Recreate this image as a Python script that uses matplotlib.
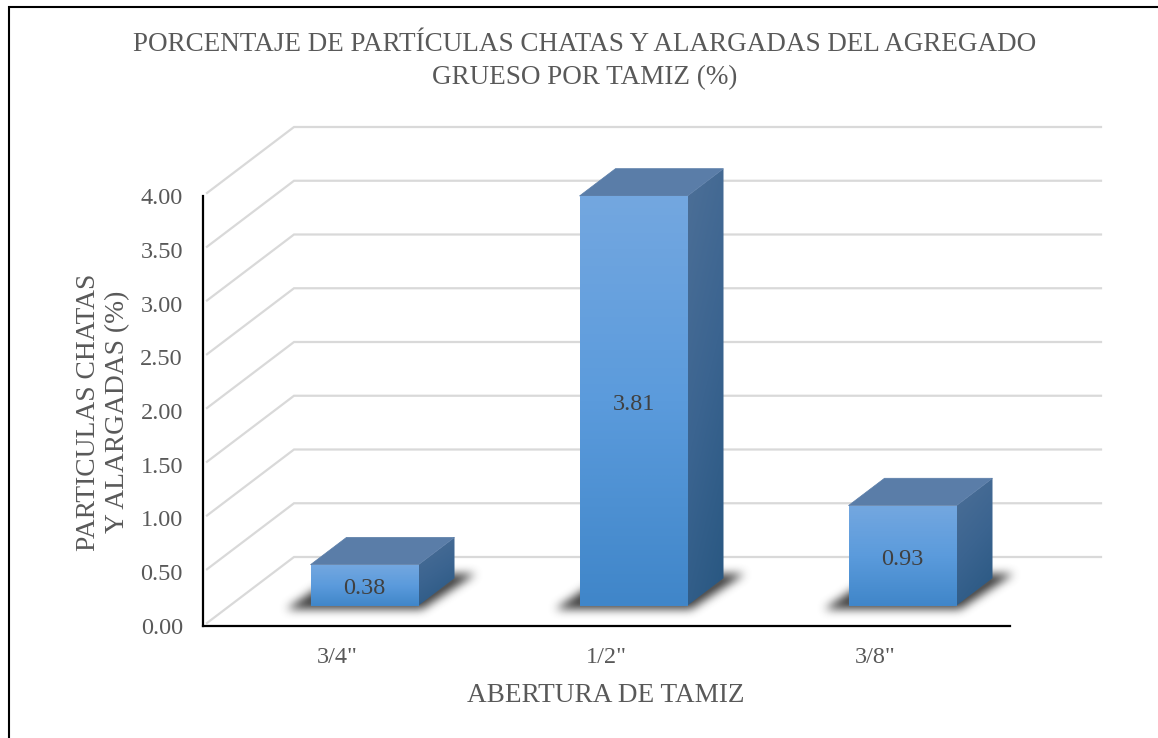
import numpy as np
import matplotlib
matplotlib.use("Agg")
import matplotlib.pyplot as plt
from matplotlib.lines import Line2D
from matplotlib.patches import Polygon
from matplotlib.colors import LinearSegmentedColormap

categories = ['3/4"', '1/2"', '3/8"']
values = [0.38, 3.81, 0.93]
y_ticks = [0.0, 0.5, 1.0, 1.5, 2.0, 2.5, 3.0, 3.5, 4.0]
title = "PORCENTAJE DE PARTÍCULAS CHATAS Y ALARGADAS DEL AGREGADO\nGRUESO POR TAMIZ (%)"
x_title = "ABERTURA DE TAMIZ"
y_title = "PARTICULAS CHATAS\nY ALARGADAS (%)"

W, H = 1158, 738
plt.rcParams['font.family'] = ['Liberation Serif', 'DejaVu Serif']
TEXT = '#595959'
fig = plt.figure(figsize=(W / 100, H / 100), dpi=100, facecolor='white')
L, R, T, B = 203, 1010, 196, 626
ax = fig.add_axes([L / W, 1 - B / H, (R - L) / W, (B - T) / H])
ax.set_xlim(-0.5, 2.5)
ax.set_ylim(0, 4)
ax.patch.set_alpha(0)
UX, UY = 3 / (R - L), 4 / (B - T)        # data units per pixel
DX, DY = 91 * UX, 69 * UY                # full depth of the 3-D box

# walls
for v in y_ticks:
    ax.plot([-0.5 + 4 * UX, -0.5 + DX, 2.5 + DX], [v + 3 * UY, v + DY, v + DY],
            color='#d9d9d9', lw=1.6, clip_on=False, zorder=1, solid_joinstyle='miter')

front_cmap = LinearSegmentedColormap.from_list('f', ['#73a7e0', '#5b9bdc', '#4086c9'])
side_cmap = LinearSegmentedColormap.from_list('s', ['#4c6f97', '#3b6490', '#285781'])
BW = 108 * UX
NEAR = 27 / 91
FAR = 63 / 91


def gradient(poly, cmap, extent, data, z):
    im = ax.imshow(data, cmap=cmap, extent=extent, aspect='auto', vmin=0, vmax=1,
                   zorder=z, interpolation='bilinear', origin='upper')
    clip = Polygon(poly, closed=True, transform=ax.transData, fc='none', ec='none')
    ax.add_patch(clip)
    im.set_clip_box(fig.bbox)
    im.set_clip_path(clip)


def blur(a, n):
    k = np.ones(n) / n
    for _ in range(3):
        a = np.apply_along_axis(lambda r: np.convolve(r, k, mode='same'), 0, a)
        a = np.apply_along_axis(lambda r: np.convolve(r, k, mode='same'), 1, a)
    return a


for i, v in enumerate(values):
    x0 = i - BW / 2 + NEAR * DX
    x1 = x0 + BW
    y0 = NEAR * DY
    y1 = y0 + v
    ddx = (FAR - NEAR) * DX
    ddy = (FAR - NEAR) * DY

    # blurred floor shadow
    px = np.arange(-50, 200)
    py = np.arange(-50, 20)
    gx, gy = np.meshgrid(px, py)
    h = -gy
    mask = ((h >= -3) & (h <= 32) & (gx >= -20 + h * 1.45) & (gx <= 116 + h * 1.5)).astype(float)
    alpha = np.clip(blur(mask, 9) * 1.0, 0, 0.88)
    rgba = np.zeros(mask.shape + (4,))
    rgba[..., 3] = alpha
    rgba[..., :3] = 0.24
    sh = ax.imshow(rgba, extent=(x0 + px[0] * UX, x0 + px[-1] * UX, y0 - py[-1] * UY, y0 - py[0] * UY),
                   aspect='auto', zorder=2, origin='upper', interpolation='bilinear')
    sh.set_clip_box(fig.bbox)

    # side face
    yy, xx = np.mgrid[0:1:60j, 0:1:30j]
    gradient([(x1, y0), (x1 + ddx, y0 + ddy), (x1 + ddx, y1 + ddy), (x1, y1)], side_cmap,
             (x1, x1 + ddx, y0, y1 + ddy), 0.75 * yy + 0.25 * xx, 3)
    # top face
    ax.add_patch(Polygon([(x0, y1), (x1, y1), (x1 + ddx, y1 + ddy), (x0 + ddx, y1 + ddy)],
                         closed=True, fc='#5a7da8', ec='#5a7da8', lw=0.5, zorder=3, clip_on=False))
    # front face
    gradient([(x0, y0), (x1, y0), (x1, y1), (x0, y1)], front_cmap,
             (x0, x1, y0, y1), np.linspace(0, 1, 100).reshape(-1, 1), 4)
    ax.text((x0 + x1) / 2, y0 + v / 2 - 3.5 * UY, f"{v:.2f}", ha='center', va='center',
            fontsize=17.5, color='#404040', zorder=5)

ax.set_xlim(-0.5, 2.5)
ax.set_ylim(0, 4)
for s in ('top', 'right'):
    ax.spines[s].set_visible(False)
for s in ('left', 'bottom'):
    ax.spines[s].set_color('black')
    ax.spines[s].set_linewidth(1.6)
    ax.spines[s].set_zorder(6)
ax.set_xticks(range(len(categories)), categories)
ax.set_yticks(y_ticks, [f"{t:.2f}" for t in y_ticks])
ax.tick_params(axis='both', length=0, colors=TEXT)
ax.tick_params(axis='y', labelsize=17.5, pad=14.5)
ax.tick_params(axis='x', labelsize=17.5, pad=15)

fig.text(585 / W, 1 - 61 / H, title, ha='center', va='center', fontsize=19.5,
         color=TEXT, linespacing=1.45)
fig.text(606 / W, 1 - 695 / H, x_title, ha='center', va='center', fontsize=19.6, color=TEXT)
fig.text(103 / W, 1 - 412 / H, y_title, ha='center', va='center', rotation=90,
         multialignment='center', fontsize=19.8, color=TEXT, linespacing=1.2)

fig.add_artist(Line2D([9 / W, 9 / W, 1], [0, 1 - 6.5 / H, 1 - 6.5 / H], color='black', lw=1.5,
                      transform=fig.transFigure, solid_joinstyle='miter'))
fig.savefig('out.png', dpi=100)
